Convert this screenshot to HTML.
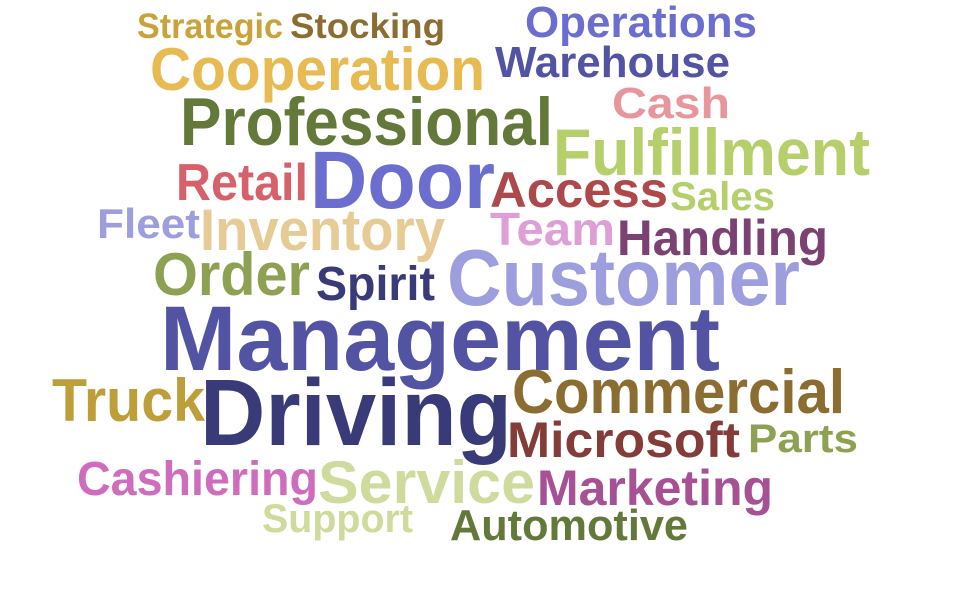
<!DOCTYPE html>
<html><head><meta charset="utf-8">
<style>
html,body{margin:0;padding:0;background:#fff;}
svg{display:block;}
text{font-family:"Liberation Sans",sans-serif;font-weight:bold;}
</style></head>
<body>
<svg id="cloud" width="960" height="600" viewBox="0 0 960 600" xmlns="http://www.w3.org/2000/svg"></svg>
<script>
const words = ["Strategic","Stocking","Operations","Cooperation","Warehouse","Cash","Professional","Fulfillment","Door","Retail","Access","Sales","Fleet","Inventory","Team","Handling","Order","Spirit","Customer","Management","Truck","Driving","Commercial","Microsoft","Parts","Cashiering","Service","Marketing","Support","Automotive"];
const colors = ["#c9a23a","#8c6d31","#6b6ecf","#e7ba52","#5254a3","#e7969c","#637939","#b5cf6b","#6b6ecf","#d6616b","#ad494a","#b5cf6b","#9c9ede","#e7cb94","#de9ed6","#7b4173","#8ca252","#393b79","#9c9ede","#5254a3","#bd9e39","#393b79","#8c6d31","#843c39","#8ca252","#ce6dbd","#cedb9c","#a55194","#cedb9c","#637939"];
const sizes = [35,35,44,60,44,44,68,66,82,52,50,40,42,58,46,50,60,48,80,92,60,95,62,50,40,48,60,50,40,44];
// layout: [x-left, baseline, width]
const layout = [[137,38,146],[290,38,155],[525,37,232],[150,90,335],[495,77,235],[612,118,118],[180,145,373],[553,175,317],[310,208,185],[176,200,132],[490,207,178],[670,210,105],[97,238,103],[200,250,245],[490,245,125],[617,255,211],[153,295,157],[316,300,119],[447,305,353],[160,370,560],[52,421,153],[200,445,312],[512,413,333],[507,457,233],[748,452,110],[77,495,241],[318,503,217],[537,505,236],[262,532,151],[450,540,238]];
const svg = document.getElementById('cloud');
words.forEach((w,i)=>{
  const t = document.createElementNS('http://www.w3.org/2000/svg','text');
  t.setAttribute('x', layout[i][0]);
  t.setAttribute('y', layout[i][1]);
  t.setAttribute('font-size', sizes[i]);
  t.setAttribute('fill', colors[i]);
  t.setAttribute('textLength', layout[i][2]);
  t.setAttribute('lengthAdjust', 'spacingAndGlyphs');
  
  
  t.textContent = w;
  svg.appendChild(t);
});
</script>
</body></html>
